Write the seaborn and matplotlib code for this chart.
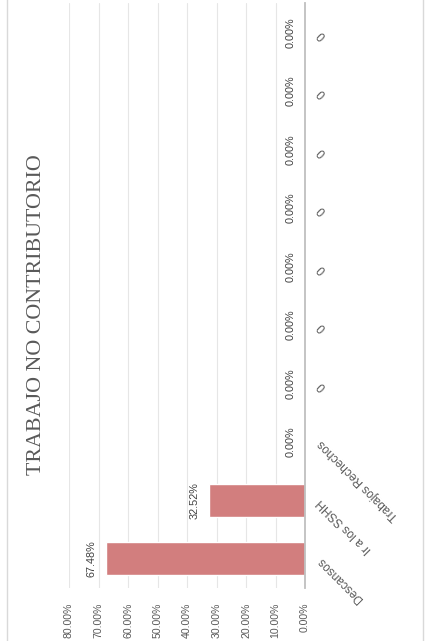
import pandas as pd
import matplotlib.pyplot as plt
from matplotlib.patches import Rectangle
from matplotlib.ticker import FuncFormatter
import seaborn as sns

categorias = ["Descansos", "Ir a los SSHH", "Trabajos Rechechos", "0", "0", "0", "0", "0", "0", "0"]
porcentajes = [67.48, 32.52, 0.00, 0.00, 0.00, 0.00, 0.00, 0.00, 0.00, 0.00]
ticks_valor = [0, 10, 20, 30, 40, 50, 60, 70, 80]
titulo = "TRABAJO NO CONTRIBUTORIO"

sns.set_style("white")
plt.rcParams['font.family'] = ['Liberation Sans Narrow', 'Liberation Sans', 'DejaVu Sans']

datos = pd.DataFrame({"pos": [str(i) for i in range(len(categorias))], "valor": porcentajes})

fig = plt.figure(figsize=(4.3, 6.41), dpi=100)
ax = fig.add_axes([69 / 430, 53 / 641, 236 / 430, 585 / 641])

# grafico girado: barras horizontales, eje de valores invertido
sns.barplot(data=datos, x="valor", y="pos", orient="h", color="#d27e7e",
            width=0.56, saturation=1, ax=ax)

ax.set_xlim(80, 0)
ax.set_ylim(-0.5, len(categorias) - 0.5)
ax.set_xlabel("")
ax.set_ylabel("")

ax.set_xticks(ticks_valor)
ax.xaxis.set_major_formatter(FuncFormatter(lambda v, p: f"{v:.2f}%"))
ax.tick_params(axis="x", length=0, pad=10.5, labelsize=7.6, labelcolor="#595959", labelrotation=90)

ax.yaxis.tick_right()
ax.set_yticks(range(len(categorias)))
ax.set_yticklabels(categorias)
ax.tick_params(axis="y", length=0, pad=10.5, labelsize=8.6, labelcolor="#595959")
for lbl in ax.get_yticklabels():
    lbl.set_rotation(135)
    lbl.set_rotation_mode("anchor")
    lbl.set_ha("right")
    lbl.set_va("center")

ax.grid(axis="x", color="#e6e6e6", lw=0.8)
ax.grid(axis="y", visible=False)
ax.set_axisbelow(True)
for s in ["top", "left", "bottom"]:
    ax.spines[s].set_visible(False)
ax.spines["right"].set_color("#bfbfbf")
ax.spines["right"].set_linewidth(1.3)

for i, v in enumerate(porcentajes):
    ax.annotate(f"{v:.2f}%", xy=(v, i), xytext=(-10.5, 0), textcoords="offset points",
                rotation=90, ha="center", va="center", fontsize=7.8, color="#404040")

fig.text(36.5 / 430, 1 - 315 / 641, titulo, rotation=90, ha="center", va="center",
         family="Liberation Serif", fontsize=15.8, color="#595959")

fig.patches.append(Rectangle((7 / 430, -0.01), 416 / 430, 1.02, transform=fig.transFigure,
                             fill=False, edgecolor="#d9d9d9", lw=1))

fig.savefig("out.png", dpi=100)
